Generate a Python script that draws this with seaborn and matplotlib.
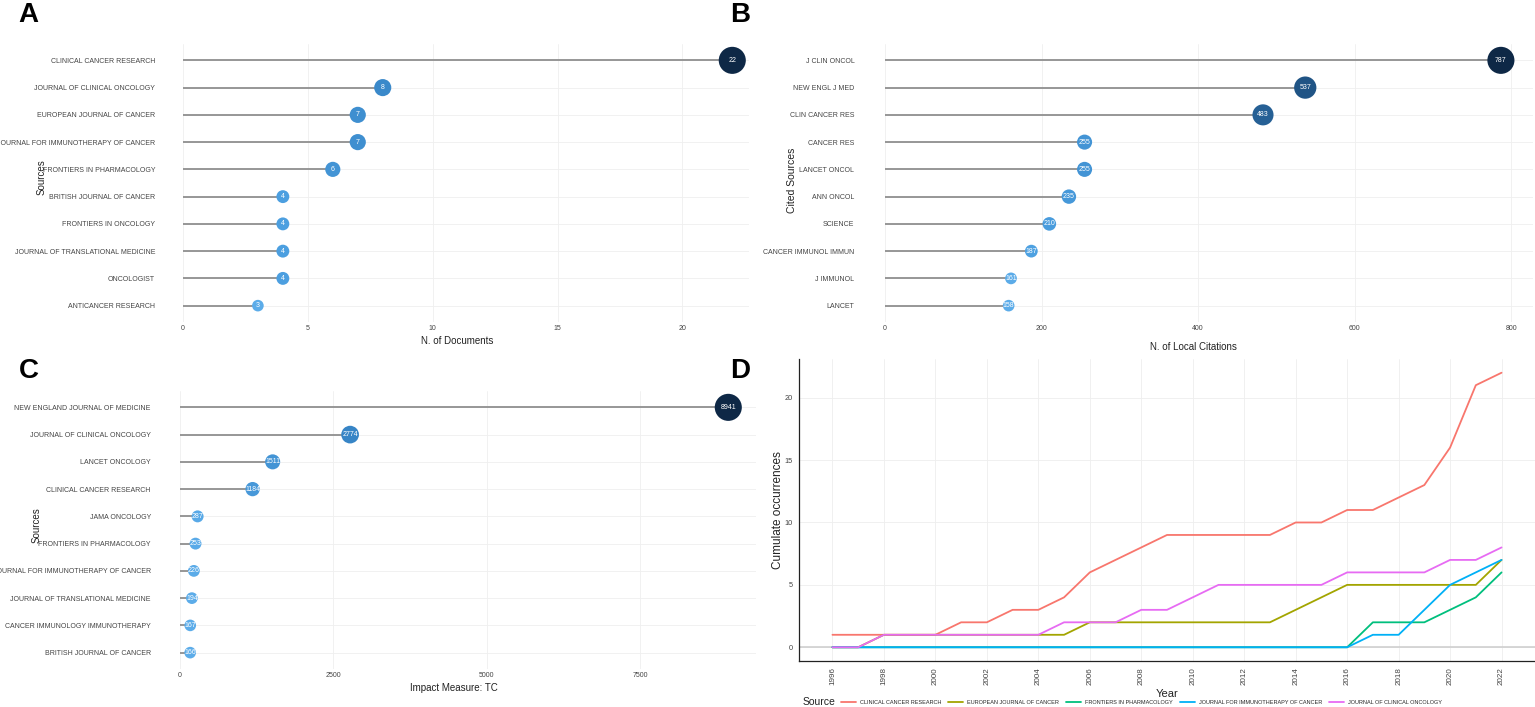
import pandas as pd
import matplotlib
matplotlib.use('Agg')
import matplotlib.pyplot as plt
from matplotlib.colors import LinearSegmentedColormap
import seaborn as sns

sns.set_theme(style='white')
SANS = ['Liberation Sans', 'DejaVu Sans']
plt.rcParams['font.family'] = SANS

# A: most relevant sources
sources_a = ['CLINICAL CANCER RESEARCH', 'JOURNAL OF CLINICAL ONCOLOGY',
             'EUROPEAN JOURNAL OF CANCER',
             'JOURNAL FOR IMMUNOTHERAPY OF CANCER',
             'FRONTIERS IN PHARMACOLOGY', 'BRITISH JOURNAL OF CANCER',
             'FRONTIERS IN ONCOLOGY', 'JOURNAL OF TRANSLATIONAL MEDICINE',
             'ONCOLOGIST', 'ANTICANCER RESEARCH']
docs_a = [22, 8, 7, 7, 6, 4, 4, 4, 4, 3]

# B: most local cited sources
sources_b = ['J CLIN ONCOL', 'NEW ENGL J MED', 'CLIN CANCER RES', 'CANCER RES',
             'LANCET ONCOL', 'ANN ONCOL', 'SCIENCE', 'CANCER IMMUNOL IMMUN',
             'J IMMUNOL', 'LANCET']
cites_b = [787, 537, 483, 255, 255, 235, 210, 187, 161, 158]

# C: source impact (total citations)
sources_c = ['NEW ENGLAND JOURNAL OF MEDICINE', 'JOURNAL OF CLINICAL ONCOLOGY',
             'LANCET ONCOLOGY', 'CLINICAL CANCER RESEARCH', 'JAMA ONCOLOGY',
             'FRONTIERS IN PHARMACOLOGY',
             'JOURNAL FOR IMMUNOTHERAPY OF CANCER',
             'JOURNAL OF TRANSLATIONAL MEDICINE',
             'CANCER IMMUNOLOGY IMMUNOTHERAPY', 'BRITISH JOURNAL OF CANCER']
tc_c = [8941, 2774, 1511, 1184, 287, 253, 226, 194, 167, 166]

# D: cumulative source growth
years = list(range(1996, 2023))
ccr = [1, 1, 1, 1, 1, 2, 2, 3, 3, 4, 6, 7, 8, 9, 9, 9, 9, 9, 10, 10, 11, 11,
       12, 13, 16, 21, 22]
ejc = [0, 0, 1, 1, 1, 1, 1, 1, 1, 1, 2, 2, 2, 2, 2, 2, 2, 2, 3, 4, 5, 5, 5,
       5, 5, 5, 7]
fip = [0, 0, 0, 0, 0, 0, 0, 0, 0, 0, 0, 0, 0, 0, 0, 0, 0, 0, 0, 0, 0, 2, 2,
       2, 3, 4, 6]
jitc = [0, 0, 0, 0, 0, 0, 0, 0, 0, 0, 0, 0, 0, 0, 0, 0, 0, 0, 0, 0, 0, 1, 1,
        3, 5, 6, 7]
jco = [0, 0, 1, 1, 1, 1, 1, 1, 1, 2, 2, 2, 3, 3, 4, 5, 5, 5, 5, 5, 6, 6, 6,
       6, 7, 7, 8]
d_names = ['CLINICAL CANCER RESEARCH', 'EUROPEAN JOURNAL OF CANCER',
           'FRONTIERS IN PHARMACOLOGY', 'JOURNAL FOR IMMUNOTHERAPY OF CANCER',
           'JOURNAL OF CLINICAL ONCOLOGY']
d_colors = ['#F8766D', '#A3A500', '#00BF7D', '#00B0F6', '#E76BF3']

W, H = 1535, 707
fig = plt.figure(figsize=(W / 100, H / 100), dpi=100)
cmap = LinearSegmentedColormap.from_list(
    'lol', [(0, '#5CACE9'), (0.05, '#4C9FE0'), (0.3, '#3785C6'),
            (0.55, '#235A8E'), (1, '#0E2846')])


def px_axes(l, t, r, b):
    return fig.add_axes([l / W, 1 - b / H, (r - l) / W, (b - t) / H])


def fig_text(x, y, s, **kw):
    fig.text(x / W, 1 - y / H, s, **kw)


def lollipop(ax, names, values, xmax, xticks, pad):
    df = pd.DataFrame({'name': names, 'value': values})
    lo, hi = min(values), max(values)
    sns.scatterplot(data=df, x='value', y='name', hue='value', size='value',
                    palette=cmap, hue_norm=(lo, hi), sizes=(70, 380),
                    size_norm=(lo, hi), linewidth=0, legend=False, ax=ax,
                    zorder=3, clip_on=False)
    ax.hlines(df['name'], 0, df['value'], color='#8f8f8f', lw=1.3, zorder=2)
    for i, v in enumerate(values):
        ax.text(v, i, str(v), color='white', ha='center', va='center',
                fontsize=5, zorder=4)
    ax.set_xlim(0, xmax)
    ax.set_ylim(len(names) - 0.4, -0.6)
    ax.set_xticks(xticks)
    ax.set_xlabel('')
    ax.set_ylabel('')
    ax.grid(True, color='#efefef', lw=0.6)
    ax.set_axisbelow(True)
    for sp in ax.spines.values():
        sp.set_visible(False)
    ax.tick_params(axis='y', length=0, pad=pad, labelsize=5,
                   colors='#444444')
    ax.tick_params(axis='x', length=0, pad=2, labelsize=5,
                   colors='#444444')


ax_a = px_axes(183, 44, 749, 322)
lollipop(ax_a, sources_a, docs_a, 22.67, [0, 5, 10, 15, 20], 20)
fig_text(457, 341, 'N. of Documents', ha='center', va='center', fontsize=7,
         color='#222222')
fig_text(42, 177, 'Sources', ha='center', va='center', rotation=90,
         fontsize=7, color='#222222')

ax_b = px_axes(885, 44, 1533, 322)
lollipop(ax_b, sources_b, cites_b, 828, [0, 200, 400, 600, 800], 22)
fig_text(1193, 347, 'N. of Local Citations', ha='center', va='center',
         fontsize=7, color='#222222')
fig_text(792, 180, 'Cited Sources', ha='center', va='center', rotation=90,
         fontsize=7.5, color='#222222')

ax_c = px_axes(180, 391, 756, 669)
lollipop(ax_c, sources_c, tc_c, 9393, [0, 2500, 5000, 7500], 21)
fig_text(454, 688, 'Impact Measure: TC', ha='center', va='center',
         fontsize=7, color='#222222')
fig_text(37, 525, 'Sources', ha='center', va='center', rotation=90,
         fontsize=7, color='#222222')

# D: line chart
rows = []
for name, vals in zip(d_names, [ccr, ejc, fip, jitc, jco]):
    for yr, v in zip(years, vals):
        rows.append({'Year': yr, 'count': v, 'Source': name})
df_d = pd.DataFrame(rows)

ax_d = px_axes(799, 359, 1535, 661)
ax_d.axhline(0, color='#cfcfcf', lw=1.2, zorder=1)
sns.lineplot(data=df_d, x='Year', y='count', hue='Source', hue_order=d_names,
             palette=d_colors, lw=1.3, ax=ax_d, zorder=3)
ax_d.set_xlim(1994.7, 2023.3)
ax_d.set_ylim(-1.1, 23.1)
ax_d.set_xticks(list(range(1996, 2023, 2)))
ax_d.set_yticks([0, 5, 10, 15, 20])
ax_d.tick_params(axis='x', rotation=90, labelsize=5.8, colors='#444444',
                 length=2.5, width=0.6, pad=2)
ax_d.tick_params(axis='y', labelsize=5.3, colors='#444444', length=2.5,
                 width=0.6, pad=2)
ax_d.tick_params(axis='both', color='#333333')
ax_d.grid(True, color='#eeeeee', lw=0.6)
ax_d.set_axisbelow(True)
for side in ['top', 'right']:
    ax_d.spines[side].set_visible(False)
for side in ['left', 'bottom']:
    ax_d.spines[side].set_color('#222222')
    ax_d.spines[side].set_linewidth(0.9)
ax_d.set_xlabel('')
ax_d.set_ylabel('')
handles, labels = ax_d.get_legend_handles_labels()
ax_d.get_legend().remove()
fig.legend(handles, labels, loc='center left',
           bbox_to_anchor=(841 / W, 1 - 702 / H), ncol=5, frameon=False,
           fontsize=4, handlelength=2.7, handletextpad=0.7,
           columnspacing=1.25, borderaxespad=0, borderpad=0)
fig_text(1167, 694, 'Year', ha='center', va='center', fontsize=8,
         color='#222222')
fig_text(819, 702, 'Source', ha='center', va='center', fontsize=7.5,
         color='#222222')
fig_text(778, 510, 'Cumulate occurrences', ha='center', va='center',
         rotation=90, fontsize=8.5, color='#222222')

# panel letters
for letter, x, y in [('A', 28, 15), ('B', 740, 15), ('C', 29, 371),
                     ('D', 740, 371)]:
    fig_text(x, y, letter, ha='center', va='center', fontsize=20,
             fontweight='bold', color='black')

fig.savefig('out.png', dpi=100)
